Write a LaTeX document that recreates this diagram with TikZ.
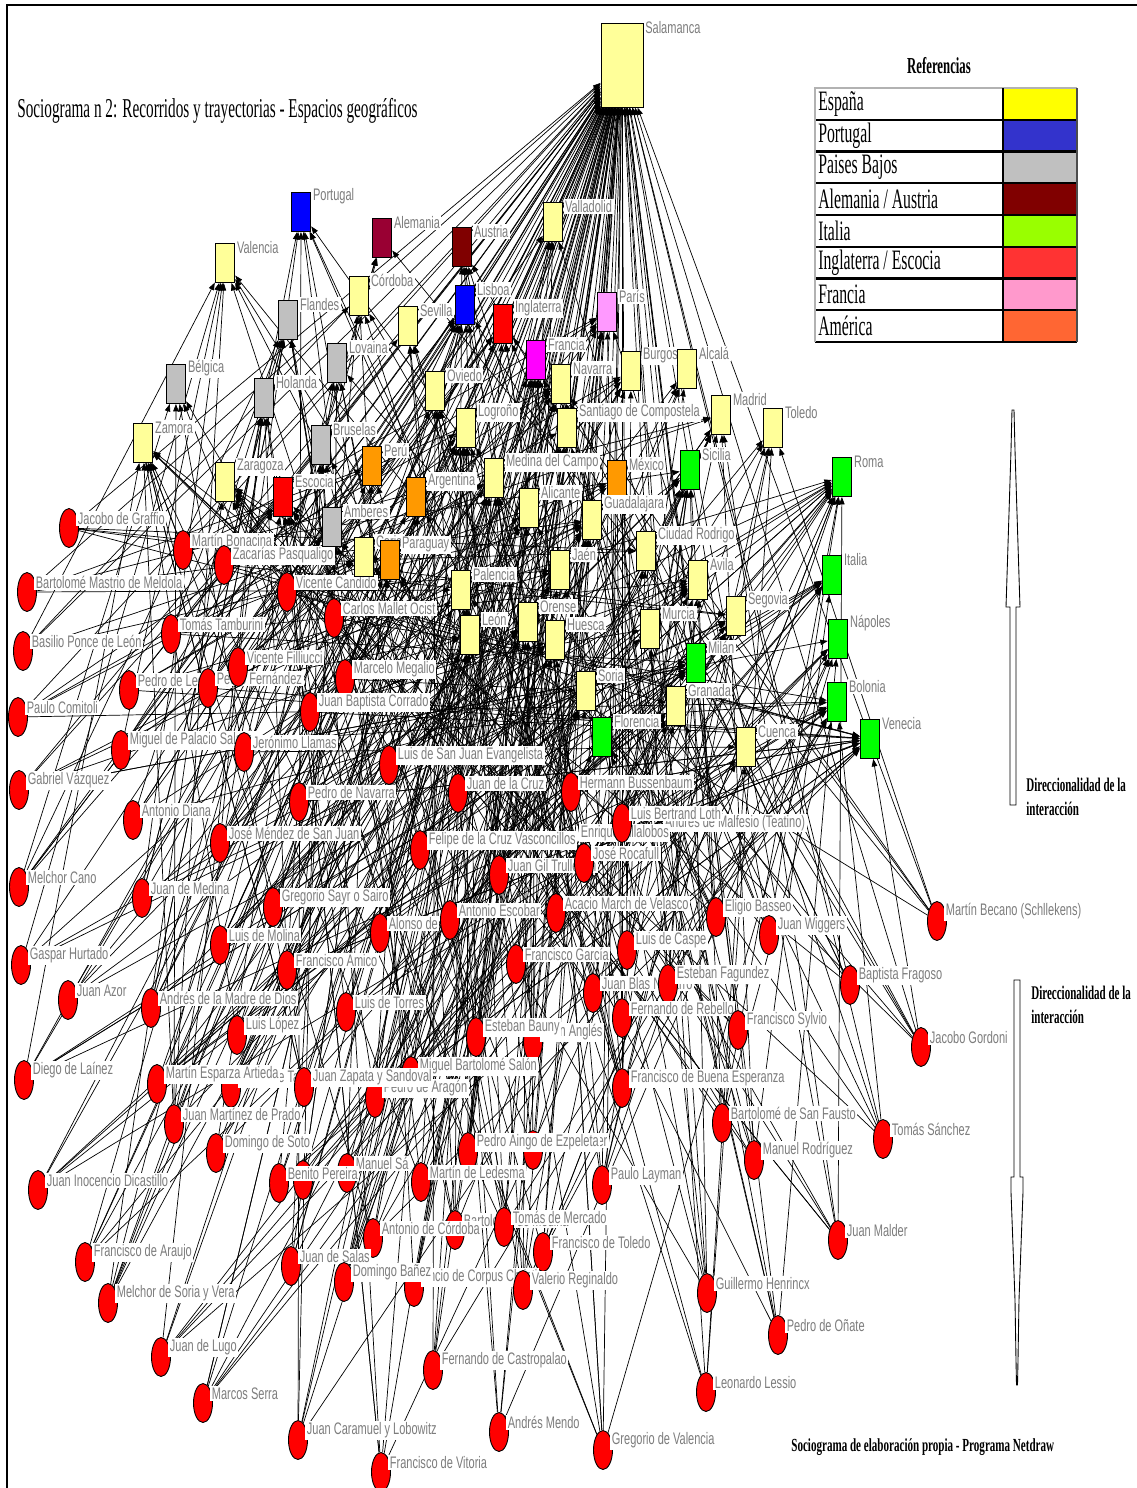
\documentclass[tikz,border=0pt]{standalone}
\usepackage{fontspec}
\newfontfamily\etq[FakeStretch=0.66]{Liberation Sans}
\newfontfamily\titf[FakeStretch=0.56]{Liberation Serif}
\newfontfamily\notaf[FakeStretch=0.57]{Liberation Serif}
\newfontfamily\pief[FakeStretch=0.6]{Liberation Serif}
\usetikzlibrary{shapes.geometric,arrows.meta,backgrounds}

\definecolor{amarillo}{RGB}{255,255,153}
\definecolor{azul}{RGB}{0,0,255}
\definecolor{gris}{RGB}{192,192,192}
\definecolor{granate}{RGB}{153,0,51}
\definecolor{marron}{RGB}{128,0,0}
\definecolor{verde}{RGB}{0,255,0}
\definecolor{rojo}{RGB}{255,0,0}
\definecolor{fucsia}{RGB}{255,0,255}
\definecolor{rosa}{RGB}{255,153,255}
\definecolor{naranja}{RGB}{255,153,0}
\definecolor{textogris}{RGB}{125,125,125}
% colores de la leyenda
\definecolor{refesp}{RGB}{255,255,0}
\definecolor{refpor}{RGB}{51,51,204}
\definecolor{refpb}{RGB}{192,192,192}
\definecolor{refale}{RGB}{128,0,0}
\definecolor{refita}{RGB}{153,255,0}
\definecolor{refing}{RGB}{255,51,51}
\definecolor{reffra}{RGB}{255,153,204}
\definecolor{refame}{RGB}{255,102,51}

\tikzset{
  lugar/.style={rectangle, draw=black, line width=0.5pt, minimum width=3.9mm, minimum height=7.8mm, inner sep=0pt},
  salamanca/.style={lugar, fill=amarillo, minimum width=8.4mm, minimum height=16.8mm},
  espana/.style={lugar, fill=amarillo},
  portugal/.style={lugar, fill=azul},
  bajos/.style={lugar, fill=gris},
  alemania/.style={lugar, fill=granate},
  austria/.style={lugar, fill=marron},
  italia/.style={lugar, fill=verde},
  inglaterra/.style={lugar, fill=rojo},
  francia/.style={lugar, fill=fucsia},
  rosa/.style={lugar, fill=rosa},
  america/.style={lugar, fill=naranja},
  persona/.style={ellipse, draw=black, line width=0.5pt, fill=rojo, minimum width=3.8mm, minimum height=7.8mm, inner sep=0pt},
  etiq/.style={font=\etq\fontsize{9.5}{10.5}\selectfont, text=textogris, fill=white, inner sep=0.3mm, anchor=west},
  arista/.style={line width=0.4pt, -{Triangle[length=1.5mm,width=1.1mm]}},
  leyenda/.style={font=\titf\fontsize{16}{18}\selectfont, anchor=west, inner sep=0pt},
  nota/.style={font=\notaf\bfseries\fontsize{11}{13.6}\selectfont, align=left, anchor=north west, inner sep=0pt},
  flecha/.style={draw=black, line width=0.5pt, fill=white}
}

% nodo con su etiqueta arriba a la derecha
\newcommand{\nodo}[4]{%
  \node[#2] (#1) at (#3) {};
  \node[etiq] (#1-t) at ([yshift=-0.9mm]#1.north east) {#4};}

% lugares por numero (los italianos repetidos)
\newcommand{\destino}[1]{\ifcase#1\or sal\or port\or alem\or aust\or vall\or vale\or cord\or fland\or sev\or lis\or ingl\or paris\or lov\or fran\or nav\or burg\or alc\or belg\or hol\or ovi\or logr\or sant\or madr\or tol\or zam\or brus\or peru\or zara\or esco\or med\or mex\or sic\or roma\or arg\or alic\or guad\or amb\or ciud\or jaen\or coria\or parag\or avila\or pal\or italia\or seg\or ore\or leon\or hues\or mur\or nap\or milan\or soria\or gran\or bol\or flor\or cuen\or ven\or roma\or italia\or nap\or bol\or ven\fi}

% leyenda: una fila
\newcommand{\fila}[3]{%
  \fill[#3] (1003,{88+31.75*#1}) rectangle (1077,{119.75+31.75*#1});
  \node[leyenda] (fila#1) at (818,{104+31.75*#1}) {#2};}

\begin{document}
\begin{tikzpicture}[x=0.2mm,y=-0.2mm]
\useasboundingbox (0,0) rectangle (1137,1488);
\draw[line width=0.45mm] (7,1488) -- (7,5) -- (1137,5);

\node[font=\titf\fontsize{15.5}{18}\selectfont, anchor=west, inner sep=0pt] (titulo) at (17,111) {Sociograma n 2: Recorridos y trayectorias - Espacios geográficos};

% personas
\nodo{graf}{persona}{69,528}{Jacobo de Graffio}
\nodo{bona}{persona}{183,550}{Martín Bonacina}
\nodo{zaca}{persona}{224,565}{Zacarías Pasqualigo}
\nodo{mastr}{persona}{27,592}{Bartolomé Mastrio de Meldola}
\nodo{cand}{persona}{287,592}{Vicente Candido}
\nodo{mallet}{persona}{334,618}{Carlos Mallet Ocist}
\nodo{tamb}{persona}{171,634}{Tomás Tamburini}
\nodo{ponce}{persona}{23,651}{Basilio Ponce de León}
\nodo{pledes}{persona}{129,690}{Pedro de Ledesma}
\nodo{pfern}{persona}{208,688}{Pedro Fernández}
\nodo{fill}{persona}{238,667}{Vicente Filliucci}
\nodo{megal}{persona}{345,679}{Marcelo Megalio}
\nodo{comit}{persona}{18,717}{Paulo Comitoli}
\nodo{corr}{persona}{310,712}{Juan Baptista Corrado}
\nodo{palac}{persona}{121,750}{Miguel de Palacio Salazar}
\nodo{llam}{persona}{244,752}{Jerónimo Llamas}
\nodo{lsanj}{persona}{389,765}{Luis de San Juan Evangelista}
\nodo{vazq}{persona}{19,790}{Gabriel Vázquez}
\nodo{jcruz}{persona}{458,793}{Juan de la Cruz}
\nodo{buss}{persona}{571,792}{Hermann Bussenbaum}
\nodo{pnav}{persona}{299,802}{Pedro de Navarra}
\nodo{diana}{persona}{133,820}{Antonio Diana}
\node[etiq] (malf) at (663,823) {Andrés de Malfesio (Teatino)};
\node[etiq] (villa) at (579,833) {Enrique Villalobos};
\nodo{loth}{persona}{622,823}{Luis Bertrand Loth}
\nodo{mendez}{persona}{220,843}{José Méndez de San Juan}
\nodo{vasc}{persona}{420,850}{Felipe de la Cruz Vasconcillos}
\nodo{gil}{persona}{499,875}{Juan Gil Trullench}
\nodo{rocaf}{persona}{584,863}{José Rocafull}
\nodo{cano}{persona}{19,887}{Melchor Cano}
\nodo{jmed}{persona}{142,898}{Juan de Medina}
\nodo{sayr}{persona}{273,907}{Gregorio Sayr o Sairo}
\nodo{alonso}{persona}{380,933}{Alonso de}
\nodo{escob}{persona}{450,920}{Antonio Escobar}
\nodo{acacio}{persona}{556,913}{Acacio March de Velasco}
\nodo{molina}{persona}{220,945}{Luis de Molina}
\nodo{hurt}{persona}{21,965}{Gaspar Hurtado}
\nodo{amico}{persona}{287,970}{Francisco Amico}
\nodo{basseo}{persona}{716,917}{Eligio Basseo}
\nodo{wigg}{persona}{769,935}{Juan Wiggers}
\nodo{becano}{persona}{937,921}{Martín Becano (Schllekens)}
\nodo{caspe}{persona}{627,950}{Luis de Caspe}
\nodo{fgarc}{persona}{516,964}{Francisco García}
\nodo{blas}{persona}{593,993}{Juan Blas Navarro}
\nodo{fagun}{persona}{668,984}{Esteban Fagundez}
\nodo{fragoso}{persona}{850,985}{Baptista Fragoso}
\nodo{azor}{persona}{68,1000}{Juan Azor}
\nodo{madre}{persona}{151,1008}{Andrés de la Madre de Dios}
\nodo{torres}{persona}{346,1012}{Luis de Torres}
\nodo{rebello}{persona}{622,1018}{Fernando de Rebello}
\nodo{sylvio}{persona}{738,1030}{Francisco Sylvio}
\nodo{lopez}{persona}{237,1035}{Luis López}
\nodo{angles}{persona}{533,1042}{Juan Anglés}
\nodo{bauny}{persona}{476,1037}{Esteban Bauny}
\nodo{gordoni}{persona}{921,1047}{Jacobo Gordoni}
\nodo{salon}{persona}{411,1076}{Miguel Bartolomé Salón}
\nodo{lainez}{persona}{24,1080}{Diego de Laínez}
\nodo{tapia}{persona}{231,1088}{Pedro de Tapia}
\nodo{esparza}{persona}{157,1084}{Martín Esparza Artieda}
\nodo{aragon}{persona}{375,1098}{Pedro de Aragón}
\nodo{zapata}{persona}{304,1087}{Juan Zapata y Sandoval}
\nodo{buena}{persona}{622,1088}{Francisco de Buena Esperanza}
\nodo{fausto}{persona}{722,1123}{Bartolomé de San Fausto}
\nodo{prado}{persona}{174,1124}{Juan Martínez de Prado}
\nodo{sanchez}{persona}{883,1139}{Tomás Sánchez}
\nodo{tanner}{persona}{533,1150}{Adam Tanner}
\nodo{ezpel}{persona}{468,1152}{Pedro Aingo de Ezpeleta}
\nodo{soto}{persona}{216,1153}{Domingo de Soto}
\nodo{rodrig}{persona}{754,1160}{Manuel Rodríguez}
\nodo{sa}{persona}{347,1173}{Manuel Sá}
\node[persona] (anon) at (303,1180) {};
\nodo{pereira}{persona}{279,1183}{Benito Pereira}
\nodo{ledesma}{persona}{421,1182}{Martín de Ledesma}
\nodo{layman}{persona}{602,1185}{Paulo Layman}
\nodo{dicast}{persona}{38,1190}{Juan Inocencio Dicastillo}
\nodo{bmedina}{persona}{455,1230}{Bartolomé de Medina}
\nodo{mercado}{persona}{504,1227}{Tomás de Mercado}
\nodo{cordoba}{persona}{373,1238}{Antonio de Córdoba}
\nodo{malder}{persona}{838,1240}{Juan Malder}
\nodo{toledo}{persona}{543,1252}{Francisco de Toledo}
\nodo{araujo}{persona}{85,1262}{Francisco de Araujo}
\nodo{salas}{persona}{291,1266}{Juan de Salas}
\nodo{corpus}{persona}{414,1287}{ancio de Corpus Christi}
\nodo{banez}{persona}{344,1282}{Domingo Bañez}
\nodo{regin}{persona}{523,1290}{Valerio Reginaldo}
\nodo{henr}{persona}{707,1293}{Guillermo Henrincx}
\nodo{soriav}{persona}{108,1303}{Melchor de Soria y Vera}
\nodo{onate}{persona}{778,1335}{Pedro de Oñate}
\nodo{lugo}{persona}{161,1357}{Juan de Lugo}
\nodo{castro}{persona}{433,1370}{Fernando de Castropalao}
\nodo{lessio}{persona}{706,1392}{Leonardo Lessio}
\nodo{serra}{persona}{203,1403}{Marcos Serra}
\nodo{mendo}{persona}{499,1432}{Andrés Mendo}
\nodo{caram}{persona}{298,1440}{Juan Caramuel y Lobowitz}
\nodo{gval}{persona}{603,1450}{Gregorio de Valencia}
\nodo{vitoria}{persona}{381,1472}{Francisco de Vitoria}

% lugares
\nodo{sal}{salamanca}{622,65}{Salamanca}
\nodo{port}{portugal}{301,212}{Portugal}
\nodo{alem}{alemania}{382,238}{Alemania}
\nodo{aust}{austria}{462,247}{Austria}
\nodo{vall}{espana}{553,222}{Valladolid}
\nodo{vale}{espana}{225,263}{Valencia}
\nodo{cord}{espana}{359,296}{Córdoba}
\nodo{fland}{bajos}{288,320}{Flandes}
\nodo{sev}{espana}{408,326}{Sevilla}
\nodo{lis}{portugal}{465,305}{Lisboa}
\nodo{ingl}{inglaterra}{503,324}{Inglaterra}
\nodo{paris}{rosa}{607,312}{París}
\nodo{lov}{bajos}{337,363}{Lovaina}
\nodo{fran}{francia}{536,360}{Francia}
\nodo{nav}{espana}{561,384}{Navarra}
\nodo{burg}{espana}{631,371}{Burgos}
\nodo{alc}{espana}{687,369}{Alcalá}
\nodo{belg}{bajos}{176,384}{Bélgica}
\nodo{hol}{bajos}{264,398}{Holanda}
\nodo{ovi}{espana}{435,391}{Oviedo}
\nodo{logr}{espana}{466,428}{Logroño}
\nodo{sant}{espana}{567,428}{Santiago de Compostela}
\nodo{madr}{espana}{721,415}{Madrid}
\nodo{tol}{espana}{773,428}{Toledo}
\nodo{zam}{espana}{143,443}{Zamora}
\nodo{brus}{bajos}{321,445}{Bruselas}
\nodo{peru}{america}{372,466}{Perú}
\nodo{zara}{espana}{225,482}{Zaragoza}
\nodo{esco}{inglaterra}{283,497}{Escocia}
\nodo{med}{espana}{494,478}{Medina del Campo}
\nodo{mex}{america}{617,480}{México}
\nodo{sic}{italia}{690,470}{Sicilia}
\nodo{roma}{italia}{842,477}{Roma}
\nodo{arg}{america}{416,497}{Argentina}
\nodo{alic}{espana}{529,508}{Alicante}
\nodo{guad}{espana}{592,520}{Guadalajara}
\nodo{amb}{bajos}{332,527}{Amberes}
\nodo{ciud}{espana}{646,551}{Ciudad Rodrigo}
\nodo{jaen}{espana}{560,570}{Jaén}
\nodo{coria}{espana}{364,557}{Coria}
\nodo{parag}{america}{390,560}{Paraguay}
\nodo{avila}{espana}{698,580}{Avila}
\nodo{pal}{espana}{461,590}{Palencia}
\nodo{italia}{italia}{832,575}{Italia}
\nodo{seg}{espana}{736,616}{Segovia}
\nodo{ore}{espana}{528,622}{Orense}
\nodo{leon}{espana}{470,635}{León}
\nodo{hues}{espana}{555,640}{Huesca}
\nodo{mur}{espana}{650,629}{Murcia}
\nodo{nap}{italia}{838,639}{Nápoles}
\nodo{milan}{italia}{696,663}{Milán}
\nodo{soria}{espana}{586,691}{Soria}
\nodo{gran}{espana}{676,706}{Granada}
\nodo{bol}{italia}{837,702}{Bolonia}
\nodo{flor}{italia}{602,737}{Florencia}
\nodo{cuen}{espana}{746,747}{Cuenca}
\nodo{ven}{italia}{870,739}{Venecia}

% relaciones persona -> lugar
\begin{pgfonlayer}{background}
\pgfmathsetseed{7}
\foreach \p in {graf,bona,zaca,mastr,cand,mallet,tamb,ponce,pledes,pfern,fill,megal,comit,corr,palac,llam,lsanj,vazq,jcruz,buss,pnav,diana,loth,mendez,vasc,rocaf,gil,cano,jmed,sayr,alonso,escob,acacio,molina,hurt,amico,basseo,wigg,becano,caspe,fgarc,fagun,fragoso,blas,azor,madre,torres,rebello,sylvio,lopez,bauny,angles,gordoni,salon,lainez,esparza,tapia,zapata,aragon,buena,fausto,prado,sanchez,soto,ezpel,tanner,rodrig,pereira,anon,sa,ledesma,layman,dicast,mercado,bmedina,cordoba,malder,toledo,araujo,salas,corpus,banez,regin,henr,soriav,onate,lugo,castro,lessio,serra,mendo,caram,gval,vitoria}{
  \draw[arista] (\p) -- (sal);
  \pgfmathrandominteger{\n}{4}{6}
  \foreach \k in {1,...,\n}{
    \pgfmathrandominteger{\r}{2}{62}
    \edef\q{\destino{\r}}
    \draw[arista] (\p) -- (\q);
  }
}
\end{pgfonlayer}

% leyenda
\node[font=\titf\bfseries\fontsize{13}{15}\selectfont, inner sep=0pt] (refs) at (939,66) {Referencias};
\fill[white] (815,88) rectangle (1003,342);
\fila{0}{España}{refesp}
\fila{1}{Portugal}{refpor}
\fila{2}{Paises Bajos}{refpb}
\fila{3}{Alemania / Austria}{refale}
\fila{4}{Italia}{refita}
\fila{5}{Inglaterra / Escocia}{refing}
\fila{6}{Francia}{reffra}
\fila{7}{América}{refame}
\foreach \i in {1,...,8}
  \draw[line width=0.45mm] (815,{88+31.75*\i}) -- (1077,{88+31.75*\i});
\draw[gray!60, line width=0.4mm] (815,342) -- (815,88) -- (1077,88);
\draw[line width=0.4mm] (1003,88) -- (1003,342);
\draw[black!70, line width=0.4mm] (1077,88) -- (1077,342);

% direccionalidad
\draw[flecha] (1012,410) -- (1014,410) -- (1015,450) -- (1019.5,592) -- (1020,607) -- (1016,607) -- (1016,805) -- (1010,805) -- (1010,607) -- (1006,607) -- (1006.5,592) -- (1011,450) -- cycle;
\node[nota] (dir1) at (1026,778) {Direccionalidad de la\\interacción};
\draw[flecha] (1014,980) -- (1020,980) -- (1020,1177) -- (1023,1177) -- (1023,1192) -- (1019,1300) -- (1018,1360) -- (1017.5,1385) -- (1016.5,1385) -- (1016,1360) -- (1015,1300) -- (1011,1192) -- (1011,1177) -- (1014,1177) -- cycle;
\node[nota] (dir2) at (1031,986) {Direccionalidad de la\\interacción};

\node[font=\pief\bfseries\fontsize{10.5}{12}\selectfont, anchor=west, inner sep=0pt] (pie) at (791,1447) {Sociograma de elaboración propia - Programa Netdraw};
\end{tikzpicture}
\end{document}
